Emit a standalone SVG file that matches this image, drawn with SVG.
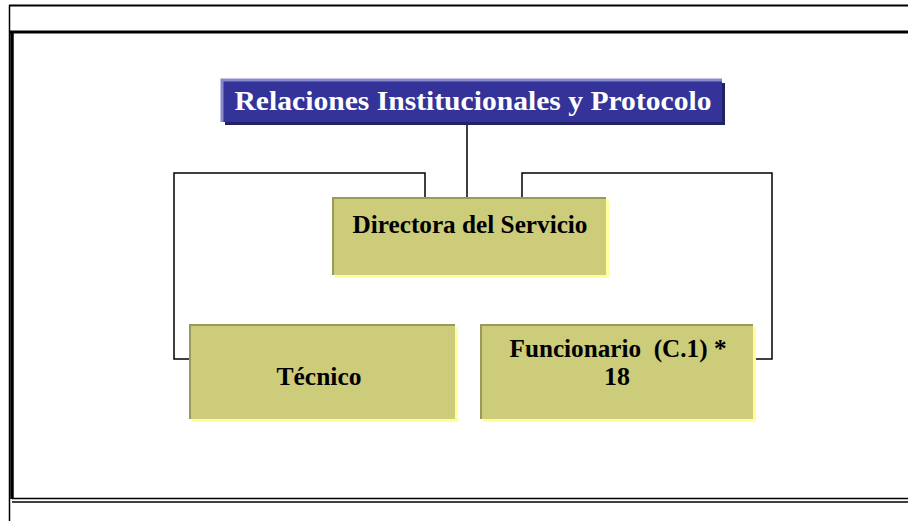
<svg xmlns="http://www.w3.org/2000/svg" width="908" height="521" viewBox="0 0 908 521">
<style>
.frame{fill:none;stroke:#000}
.conn{fill:none;stroke:#000;stroke-width:1.5}
.box{fill:#cccc7a}
.shadow{fill:#ffff99}
.edge{fill:none;stroke:#99995a;stroke-width:2}
.lbl{font-family:"Liberation Serif","Times New Roman",serif;font-weight:bold;text-anchor:middle;fill:#000;font-size:25px}
.title{font-family:"Liberation Serif","Times New Roman",serif;font-weight:bold;text-anchor:middle;fill:#fff;font-size:27px}
</style>
<rect width="908" height="521" fill="#fff"/>
<g id="frame">
<line class="frame" x1="9" y1="5.5" x2="908" y2="5.5" stroke-width="2"/>
<line class="frame" x1="9.5" y1="5" x2="9.5" y2="521" stroke-width="1.5"/>
<line class="frame" x1="10" y1="32" x2="908" y2="32" stroke-width="3"/>
<line class="frame" x1="12" y1="31" x2="12" y2="499" stroke-width="3.5"/>
<line class="frame" x1="12" y1="498.5" x2="908" y2="498.5" stroke-width="1.5"/>
<line class="frame" x1="12" y1="502" x2="908" y2="502" stroke-width="1.5"/>
</g>
<g id="connectors">
<path class="conn" d="M467 122 V198"/>
<path class="conn" d="M425 198 V173 H174 V359 H189"/>
<path class="conn" d="M522 198 V173 H772 V359 H755"/>
</g>
<g id="title">
<rect x="225" y="83" width="500" height="42" fill="#222266"/>
<rect x="222" y="80" width="500" height="42" fill="#333399"/>
<path d="M222 122 V80 H722" fill="none" stroke="#8888cc" stroke-width="3"/>
<text class="title" x="473" y="110" textLength="477" lengthAdjust="spacingAndGlyphs">Relaciones Institucionales y Protocolo</text>
</g>
<g id="directora">
<rect class="shadow" x="335" y="200" width="274" height="78"/>
<rect class="box" x="332" y="197" width="274" height="78"/>
<path class="edge" d="M333 275 V198 H606"/>
<text class="lbl" x="470" y="233" textLength="235" lengthAdjust="spacingAndGlyphs">Directora del Servicio</text>
</g>
<g id="tecnico">
<rect class="shadow" x="192" y="327" width="266" height="95"/>
<rect class="box" x="189" y="324" width="266" height="95"/>
<path class="edge" d="M190 419 V325 H455"/>
<text class="lbl" x="319" y="385" textLength="85" lengthAdjust="spacingAndGlyphs">Técnico</text>
</g>
<g id="funcionario">
<rect class="shadow" x="483" y="327" width="273" height="95"/>
<rect class="box" x="480" y="324" width="273" height="95"/>
<path class="edge" d="M481 419 V325 H753"/>
<text class="lbl" x="618" y="357" textLength="217" lengthAdjust="spacingAndGlyphs" xml:space="preserve">Funcionario  (C.1) *</text>
<text class="lbl" x="617" y="385" textLength="26" lengthAdjust="spacingAndGlyphs">18</text>
</g>
</svg>
